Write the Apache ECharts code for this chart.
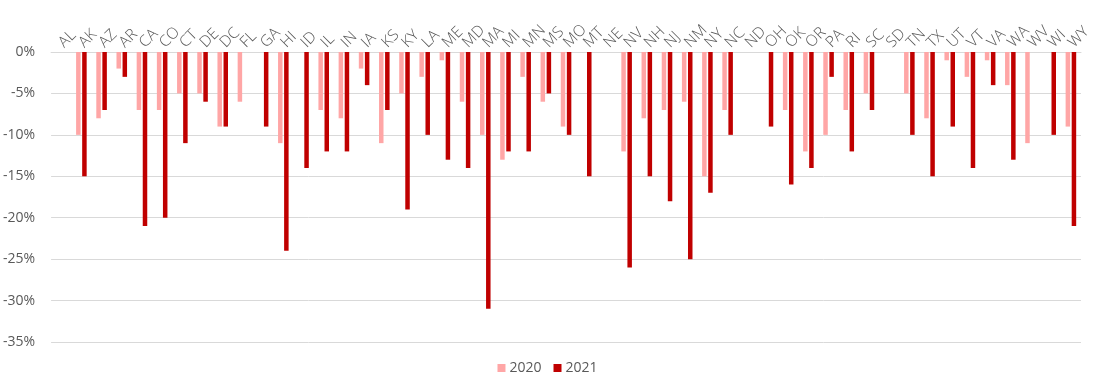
<!DOCTYPE html>
<html>
<head>
<meta charset="utf-8">
<script src="https://cdn.jsdelivr.net/npm/echarts@6/dist/echarts.min.js"></script>
<style>
html,body{margin:0;padding:0;background:#fff;}
#chart{width:1095px;height:391px;}
</style>
</head>
<body>
<div id="chart"></div>
<script>
const states = ["AL","AK","AZ","AR","CA","CO","CT","DE","DC","FL","GA","HI","ID","IL","IN","IA","KS","KY","LA","ME","MD","MA","MI","MN","MS","MO","MT","NE","NV","NH","NJ","NM","NY","NC","ND","OH","OK","OR","PA","RI","SC","SD","TN","TX","UT","VT","VA","WA","WV","WI","WY"];
const values2020 = [0,-10,-8,-2,-7,-7,-5,-5,-9,-6,0,-11,0,-7,-8,-2,-11,-5,-3,-1,-6,-10,-13,-3,-6,-9,0,0,-12,-8,-7,-6,-15,-7,0,0,-7,-12,-10,-7,-5,0,-5,-8,-1,-3,-1,-4,-11,0,-9];
const values2021 = [0,-15,-7,-3,-21,-20,-11,-6,-9,0,-9,-24,-14,-12,-12,-4,-7,-19,-10,-13,-14,-31,-12,-12,-5,-10,-15,0,-26,-15,-18,-25,-17,-10,0,-9,-16,-14,-3,-12,-7,0,-10,-15,-9,-14,-4,-13,0,-10,-21];
const seriesNames = ["2020","2021"];

const chart = echarts.init(document.getElementById('chart'));
const font = "'Open Sans', sans-serif";
chart.setOption({
  animation:false,
  textStyle:{fontFamily:font},
  grid:{left:50,right:14,top:52,bottom:49},
  legend:{
    data:seriesNames, bottom:11, left:'center',
    itemWidth:8,itemHeight:8,itemGap:12,icon:'rect',
    textStyle:{color:'#595959',fontSize:14,fontFamily:font,padding:[0,0,0,-1]}
  },
  xAxis:{
    type:'category', data:states, position:'top',
    axisLine:{show:true,lineStyle:{color:'#d9d9d9'}},
    axisTick:{show:false},
    axisLabel:{rotate:45,color:'#595959',fontSize:15.5,interval:0,margin:7,fontFamily:font,fontWeight:300}
  },
  yAxis:{
    type:'value', min:-35, max:0, interval:5,
    axisLine:{show:false}, axisTick:{show:false},
    splitLine:{lineStyle:{color:'#d9d9d9'}},
    axisLabel:{formatter:'{value}%',color:'#595959',fontSize:14,margin:16,fontFamily:font}
  },
  series:[
    {name:seriesNames[0],type:'bar',data:values2020,barWidth:4.5,barGap:'35%',itemStyle:{color:'#ffa6a6'}},
    {name:seriesNames[1],type:'bar',data:values2021,barWidth:4.5,barGap:'35%',itemStyle:{color:'#c00000'}}
  ]
});
</script>
</body>
</html>
